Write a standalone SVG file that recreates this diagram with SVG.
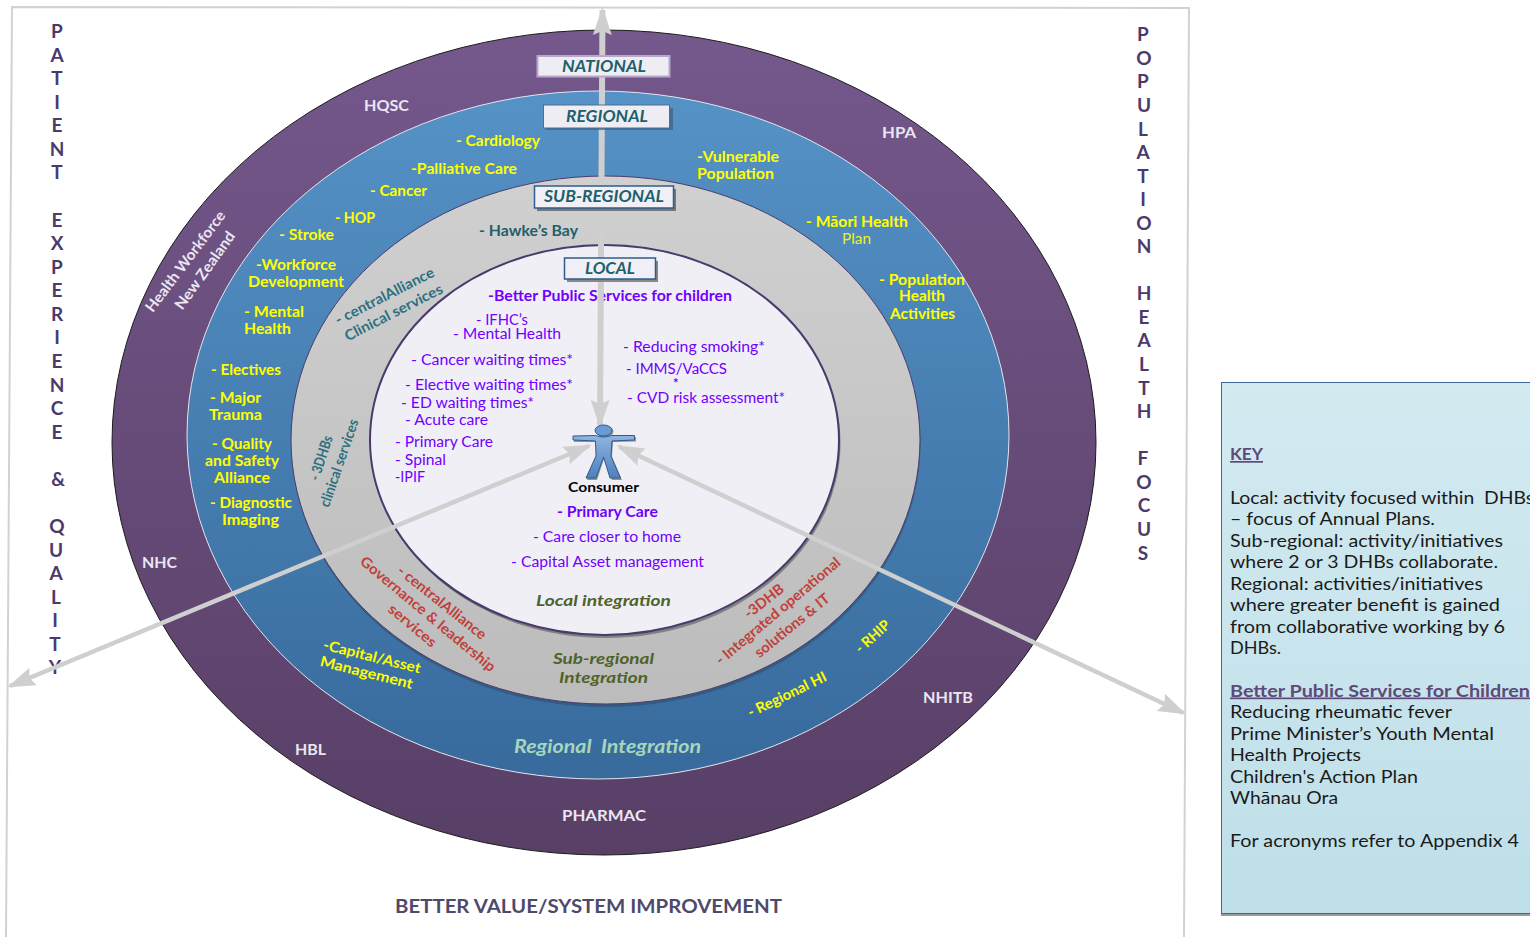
<svg xmlns="http://www.w3.org/2000/svg" width="1530" height="937" viewBox="0 0 1530 937">
<style>
text{font-family:"Lato","Liberation Sans",sans-serif;white-space:pre}
.y{fill:#ffff00;font-weight:700;font-size:14.5px}
.yn{fill:#f0f020;font-size:14.5px}
.p{fill:#7000ff;font-size:14.5px}
.pb{fill:#7000ff;font-size:14.5px;font-weight:700}
.w{fill:#ebe6f2;font-weight:700;font-size:15px}
.s{fill:#4b3a6b;font-weight:700;font-size:19px;text-anchor:middle}
.tl{fill:#215f6b;font-size:15px;font-weight:700}
.tn{fill:#2b7080;font-size:14.5px;font-weight:700}
.r{fill:#c0413b;font-size:14.5px;font-weight:700}
.g{fill:#4f6228;font-weight:700;font-style:italic;font-size:16px}
.lb{fill:#215f6b;font-weight:700;font-style:italic;font-size:17px;text-anchor:middle}
.k{fill:#1a1a1a;font-size:17px}
.kh{fill:#5f497a;font-size:17px;font-weight:700;text-decoration:underline}
.arrow{stroke:#cfcfcf;fill:none}
.m{text-anchor:middle}
</style>
<defs>
<linearGradient id="gO" x1="0" y1="0" x2="0" y2="1"><stop offset="0" stop-color="#75588c"/><stop offset="1" stop-color="#583f66"/></linearGradient>
<linearGradient id="gR" x1="0" y1="0" x2="0" y2="1"><stop offset="0" stop-color="#5592c6"/><stop offset="1" stop-color="#386a9c"/></linearGradient>
<linearGradient id="gS" x1="0" y1="0" x2="0" y2="1"><stop offset="0" stop-color="#d0d0d0"/><stop offset="1" stop-color="#bcbcbc"/></linearGradient>
<linearGradient id="gK" x1="0" y1="0" x2="0" y2="1"><stop offset="0" stop-color="#d3eaf1"/><stop offset="1" stop-color="#bedfe8"/></linearGradient>
<linearGradient id="gF" x1="0" y1="0" x2="0" y2="1"><stop offset="0" stop-color="#8fb4e0"/><stop offset="1" stop-color="#4f81bd"/></linearGradient>
<marker id="ah" markerUnits="userSpaceOnUse" markerWidth="30" markerHeight="24" refX="25" refY="12" orient="auto-start-reverse"><path d="M0 2.500 L28 12 L0 21.500 L4 12 Z" fill="#cfcfcf"/></marker>
</defs>
<g id="frame" fill="none" stroke="#d2d2d2" stroke-width="2"><path d="M6 937 L12 7 L1189 8 L1184 937"/></g>
<g id="ring-national"><ellipse cx="604" cy="442.5" rx="492" ry="412.5" fill="url(#gO)" stroke="#1c1c1c" stroke-width="1"/></g>
<g id="ring-regional"><ellipse cx="598" cy="435" rx="411" ry="344" fill="url(#gR)" stroke="#e4e4ee" stroke-width="1"/></g>
<g id="ring-subregional"><ellipse cx="606" cy="443" rx="314.5" ry="264" fill="#2f4f70" opacity=".6"/><ellipse cx="605.5" cy="440" rx="314.5" ry="264" fill="url(#gS)" stroke="#4b3a6b" stroke-width="1"/></g>
<g id="ring-local"><ellipse cx="606" cy="443" rx="234.5" ry="195" fill="#666" opacity=".7"/><ellipse cx="604.5" cy="440" rx="234.5" ry="195" fill="#f1eff6" stroke="#4b3a6b" stroke-width="2"/></g>

<g id="labels-national" transform="translate(0 1)">
<text class="w" x="364" y="110" textLength="45" lengthAdjust="spacingAndGlyphs">HQSC</text>
<text class="w" x="882" y="137" textLength="34" lengthAdjust="spacingAndGlyphs">HPA</text>
<text class="w" x="142" y="567" textLength="35" lengthAdjust="spacingAndGlyphs">NHC</text>
<text class="w" x="923" y="702" textLength="50" lengthAdjust="spacingAndGlyphs">NHITB</text>
<text class="w" x="295" y="754" textLength="31" lengthAdjust="spacingAndGlyphs">HBL</text>
<text class="w" x="562" y="820" textLength="84" lengthAdjust="spacingAndGlyphs">PHARMAC</text>
<text class="w m" transform="translate(185.500 260.500) rotate(-53)" x="0" y="5" textLength="122" lengthAdjust="spacingAndGlyphs">Health Workforce</text>
<text class="w m" transform="translate(205 269.500) rotate(-54.500)" x="0" y="5" textLength="92" lengthAdjust="spacingAndGlyphs">New Zealand</text>
</g>
<g id="labels-regional" transform="translate(0 1)">
<text class="y" x="456" y="145" textLength="84" lengthAdjust="spacingAndGlyphs">- Cardiology</text>
<text class="y" x="411" y="173" textLength="106" lengthAdjust="spacingAndGlyphs">-Palliative Care</text>
<text class="y" x="370" y="195" textLength="57" lengthAdjust="spacingAndGlyphs">- Cancer</text>
<text class="y" x="335" y="222" textLength="40" lengthAdjust="spacingAndGlyphs">- HOP</text>
<text class="y" x="279" y="239" textLength="55" lengthAdjust="spacingAndGlyphs">- Stroke</text>
<text class="y" x="256" y="269" textLength="80" lengthAdjust="spacingAndGlyphs">-Workforce</text>
<text class="y" x="248" y="286" textLength="96" lengthAdjust="spacingAndGlyphs">Development</text>
<text class="y" x="244" y="316" textLength="60" lengthAdjust="spacingAndGlyphs">- Mental</text>
<text class="y" x="244" y="333" textLength="47" lengthAdjust="spacingAndGlyphs">Health</text>
<text class="y" x="211" y="374" textLength="70" lengthAdjust="spacingAndGlyphs">- Electives</text>
<text class="y" x="210" y="402" textLength="51" lengthAdjust="spacingAndGlyphs">- Major</text>
<text class="y" x="209" y="419" textLength="53" lengthAdjust="spacingAndGlyphs">Trauma</text>
<text class="y" x="212" y="448" textLength="60" lengthAdjust="spacingAndGlyphs">- Quality</text>
<text class="y" x="205" y="465" textLength="74" lengthAdjust="spacingAndGlyphs">and Safety</text>
<text class="y" x="214" y="482" textLength="56" lengthAdjust="spacingAndGlyphs">Alliance</text>
<text class="y" x="210" y="507" textLength="82" lengthAdjust="spacingAndGlyphs">- Diagnostic</text>
<text class="y" x="222" y="524" textLength="57" lengthAdjust="spacingAndGlyphs">Imaging</text>
<text class="y" x="697" y="161" textLength="82" lengthAdjust="spacingAndGlyphs">-Vulnerable</text>
<text class="y" x="697" y="178" textLength="77" lengthAdjust="spacingAndGlyphs">Population</text>
<text class="y" x="806" y="226" textLength="102" lengthAdjust="spacingAndGlyphs">- Māori Health</text>
<text class="yn" x="842" y="243" textLength="29" lengthAdjust="spacingAndGlyphs">Plan</text>
<text class="y" x="879" y="284" textLength="86" lengthAdjust="spacingAndGlyphs">- Population</text>
<text class="y" x="899" y="300" textLength="46" lengthAdjust="spacingAndGlyphs">Health</text>
<text class="y" x="890" y="318" textLength="65" lengthAdjust="spacingAndGlyphs">Activities</text>
<text class="y m" transform="translate(372 655.500) rotate(14)" x="0" y="5" textLength="100" lengthAdjust="spacingAndGlyphs">-Capital/Asset</text>
<text class="y m" transform="translate(366.500 671.500) rotate(14)" x="0" y="5" textLength="95" lengthAdjust="spacingAndGlyphs">Management</text>
<text class="y m" transform="translate(787 693.500) rotate(-26)" x="0" y="5" textLength="86" lengthAdjust="spacingAndGlyphs">- Regional HI</text>
<text class="y m" transform="translate(872.500 635.500) rotate(-42)" x="0" y="5" textLength="41" lengthAdjust="spacingAndGlyphs">- RHIP</text>
<text class="g" x="514" y="752" style="fill:#a6d6bb;font-size:18px" textLength="187" lengthAdjust="spacingAndGlyphs">Regional  Integration</text>
</g>
<g id="labels-subregional" transform="translate(0 1)">
<text class="tl" x="479" y="235" textLength="99" lengthAdjust="spacingAndGlyphs">- Hawke’s Bay</text>
<text class="tn m" transform="translate(384.500 295) rotate(-27)" x="0" y="5" textLength="109" lengthAdjust="spacingAndGlyphs">- centralAlliance</text>
<text class="tn m" transform="translate(393.500 311.500) rotate(-27)" x="0" y="5" textLength="108" lengthAdjust="spacingAndGlyphs">Clinical services</text>
<text class="tn m" transform="translate(321 457) rotate(-72)" x="0" y="5" textLength="46" lengthAdjust="spacingAndGlyphs">- 3DHBs</text>
<text class="tn m" transform="translate(339 462) rotate(-71)" x="0" y="5" textLength="92" lengthAdjust="spacingAndGlyphs">clinical services</text>
<text class="r m" transform="translate(442 601.500) rotate(38.600)" x="0" y="5" textLength="109" lengthAdjust="spacingAndGlyphs">- centralAlliance</text>
<text class="r m" transform="translate(428 613) rotate(39.800)" x="0" y="5" textLength="171" lengthAdjust="spacingAndGlyphs">Governance &amp; leadership</text>
<text class="r m" transform="translate(412.500 624.500) rotate(40)" x="0" y="5" textLength="58" lengthAdjust="spacingAndGlyphs">services</text>
<text class="r m" transform="translate(764 600) rotate(-38)" x="0" y="5" textLength="46" lengthAdjust="spacingAndGlyphs">-3DHB</text>
<text class="r m" transform="translate(778 610) rotate(-40)" x="0" y="5" textLength="158" lengthAdjust="spacingAndGlyphs">- Integrated operational</text>
<text class="r m" transform="translate(792 624.500) rotate(-39)" x="0" y="5" textLength="92" lengthAdjust="spacingAndGlyphs">solutions &amp; IT</text>
<text class="g" x="553" y="663" textLength="101" lengthAdjust="spacingAndGlyphs">Sub-regional</text>
<text class="g" x="559" y="682" textLength="89" lengthAdjust="spacingAndGlyphs">Integration</text>
</g>
<g id="labels-local" transform="translate(0 1)">
<text class="pb" x="488" y="300" textLength="244" lengthAdjust="spacingAndGlyphs">-Better Public Services for children</text>
<text class="p" x="476" y="324" textLength="52" lengthAdjust="spacingAndGlyphs">- IFHC’s</text>
<text class="p" x="453" y="338" textLength="108" lengthAdjust="spacingAndGlyphs">- Mental Health</text>
<text class="p" x="411" y="364" textLength="162" lengthAdjust="spacingAndGlyphs">- Cancer waiting times*</text>
<text class="p" x="405" y="389" textLength="168" lengthAdjust="spacingAndGlyphs">- Elective waiting times*</text>
<text class="p" x="401" y="407" textLength="133" lengthAdjust="spacingAndGlyphs">- ED waiting times*</text>
<text class="p" x="405" y="424" textLength="83" lengthAdjust="spacingAndGlyphs">- Acute care</text>
<text class="p" x="395" y="446" textLength="98" lengthAdjust="spacingAndGlyphs">- Primary Care</text>
<text class="p" x="395" y="464" textLength="51" lengthAdjust="spacingAndGlyphs">- Spinal</text>
<text class="p" x="395" y="481" textLength="30" lengthAdjust="spacingAndGlyphs">-IPIF</text>
<text class="p" x="623" y="351" textLength="142" lengthAdjust="spacingAndGlyphs">- Reducing smoking*</text>
<text class="p" x="626" y="373" textLength="101" lengthAdjust="spacingAndGlyphs">- IMMS/VaCCS</text>
<text class="p" x="673" y="387" style="font-size:13px;font-weight:700">*</text>
<text class="p" x="627" y="402" textLength="158" lengthAdjust="spacingAndGlyphs">- CVD risk assessment*</text>
<text x="568" y="491" font-size="14" font-weight="700" fill="#000" textLength="71" lengthAdjust="spacingAndGlyphs">Consumer</text>
<text class="pb" x="557" y="516" textLength="101" lengthAdjust="spacingAndGlyphs">- Primary Care</text>
<text class="p" x="533" y="541" textLength="148" lengthAdjust="spacingAndGlyphs">- Care closer to home</text>
<text class="p" x="511" y="566" textLength="193" lengthAdjust="spacingAndGlyphs">- Capital Asset management</text>
<text class="g" x="536" y="605" textLength="135" lengthAdjust="spacingAndGlyphs">Local integration</text>
</g>
<g id="side-left" transform="translate(0 1)">
<text class="s" x="57 57 57 57 57 57 57" y="37 61 84 108 131 155 178">PATIENT</text>
<text class="s" x="57 57 57 57 57 57 57 57 57 57" y="226 249 273 296 320 343 367 391 414 438">EXPERIENCE</text>
<text class="s" x="58" y="485">&amp;</text>
<text class="s" x="57 56 56 56 55 55 55" y="532 556 579 603 626 650 673">QUALITY</text>
</g>
<g id="side-right" transform="translate(0 1)">
<text class="s" x="1143 1144 1143 1144 1143 1143 1143 1143 1144 1144" y="40 64 87 111 135 158 182 205 229 252">POPULATION</text>
<text class="s" x="1144 1144 1144 1144 1144 1144" y="299 323 346 370 394 417">HEALTH</text>
<text class="s" x="1143 1144 1144 1144 1143" y="464 488 511 535 559">FOCUS</text>
</g>
<text id="bottom-label" x="395" y="913" font-size="19" font-weight="700" fill="#4f4a6b" textLength="387" lengthAdjust="spacingAndGlyphs">BETTER VALUE/SYSTEM IMPROVEMENT</text>

<g id="connectors">
<line class="arrow" x1="602.500" y1="10" x2="600" y2="425" stroke-width="6" marker-start="url(#ah)" marker-end="url(#ah)"/>
<line class="arrow" x1="589" y1="446" x2="10" y2="686" stroke-width="4.500" marker-start="url(#ah)" marker-end="url(#ah)"/>
<line class="arrow" x1="619" y1="446.500" x2="1183.500" y2="713" stroke-width="4.500" marker-start="url(#ah)" marker-end="url(#ah)"/>
</g>

<g id="node-national"><rect x="537.500" y="56" width="132" height="20.500" fill="#efedf4" stroke="#b8a9cc" stroke-width="2"/><text class="lb" x="604" y="72" textLength="84" lengthAdjust="spacingAndGlyphs">NATIONAL</text></g>
<g id="node-regional"><rect x="546" y="108" width="127" height="22" fill="#3f5f7f" opacity=".7"/><rect x="543.500" y="105" width="126" height="23" fill="#efedf4" stroke="#4a6f9a"/><text class="lb" x="607" y="122" textLength="82" lengthAdjust="spacingAndGlyphs">REGIONAL</text></g>
<g id="node-subregional"><rect x="537" y="189" width="139" height="22" fill="#777"/><rect x="534.500" y="186" width="139" height="22" fill="#f1f0f6" stroke="#2f5c8a" stroke-width="1.500"/><text class="lb" x="604" y="202" textLength="120" lengthAdjust="spacingAndGlyphs">SUB-REGIONAL</text></g>
<g id="node-local"><rect x="567" y="261" width="91" height="21" fill="#888"/><rect x="564.500" y="258" width="91" height="21" fill="#f1f0f6" stroke="#2f5c8a" stroke-width="1.500"/><text class="lb" x="610" y="274" textLength="50" lengthAdjust="spacingAndGlyphs">LOCAL</text></g>
<g id="node-consumer">
<path d="M574 438 L596 436.500 Q600 438 604 438 Q608 438 612 436.500 L636 437 L636 441.500 L613 442 L612 457 L622 480 L612 480 L604 459 L597 480 L587 480 L597 457 L596 442 L574 442 Z" fill="#555" opacity=".6"/>
<ellipse cx="605" cy="431.500" rx="8.500" ry="6" fill="#555" opacity=".6"/>
<path d="M573 436 L595.500 435.500 Q600 437 603.500 437 Q607 437 611.500 435.500 L634.500 435.500 L634.500 440 L612 441 L611 456 L620.500 478 L610 478 L603.500 457 L596 478 L586 478 L596 456 L595.500 441 L573 440 Z" fill="url(#gF)" stroke="#2f5c8a" stroke-width="1"/>
<ellipse cx="603.500" cy="430.500" rx="8.500" ry="5.500" fill="#6b9bd6" stroke="#2f5c8a" stroke-width="1"/>
</g>
<g id="node-key" transform="translate(0 0)">
<rect x="1221" y="382" width="320" height="534" fill="#9a9a9a"/>
<rect x="1221.500" y="382.500" width="320" height="531" fill="url(#gK)" stroke="#3f6797"/>
<text class="kh" x="1230" y="460" textLength="33" lengthAdjust="spacingAndGlyphs">KEY</text>
<text class="k" x="1230" y="503.500" textLength="304" lengthAdjust="spacingAndGlyphs">Local: activity focused within  DHBs</text>
<text class="k" x="1230" y="524.500" textLength="205" lengthAdjust="spacingAndGlyphs">– focus of Annual Plans.</text>
<text class="k" x="1230" y="546.500" textLength="273" lengthAdjust="spacingAndGlyphs">Sub-regional: activity/initiatives</text>
<text class="k" x="1230" y="567.500" textLength="268" lengthAdjust="spacingAndGlyphs">where 2 or 3 DHBs collaborate.</text>
<text class="k" x="1230" y="589.500" textLength="253" lengthAdjust="spacingAndGlyphs">Regional: activities/initiatives</text>
<text class="k" x="1230" y="610.500" textLength="270" lengthAdjust="spacingAndGlyphs">where greater benefit is gained</text>
<text class="k" x="1230" y="632.500" textLength="275" lengthAdjust="spacingAndGlyphs">from collaborative working by 6</text>
<text class="k" x="1230" y="653.500" textLength="51" lengthAdjust="spacingAndGlyphs">DHBs.</text>
<text class="kh" x="1230" y="696.500" textLength="300" lengthAdjust="spacingAndGlyphs">Better Public Services for Children</text>
<text class="k" x="1230" y="717.500" textLength="222" lengthAdjust="spacingAndGlyphs">Reducing rheumatic fever</text>
<text class="k" x="1230" y="739.500" textLength="264" lengthAdjust="spacingAndGlyphs">Prime Minister’s Youth Mental</text>
<text class="k" x="1230" y="760.500" textLength="131" lengthAdjust="spacingAndGlyphs">Health Projects</text>
<text class="k" x="1230" y="782.500" textLength="188" lengthAdjust="spacingAndGlyphs">Children's Action Plan</text>
<text class="k" x="1230" y="803.500" textLength="108" lengthAdjust="spacingAndGlyphs">Whānau Ora</text>
<text class="k" x="1230" y="846.500" textLength="289" lengthAdjust="spacingAndGlyphs">For acronyms refer to Appendix 4</text>
</g>
</svg>
